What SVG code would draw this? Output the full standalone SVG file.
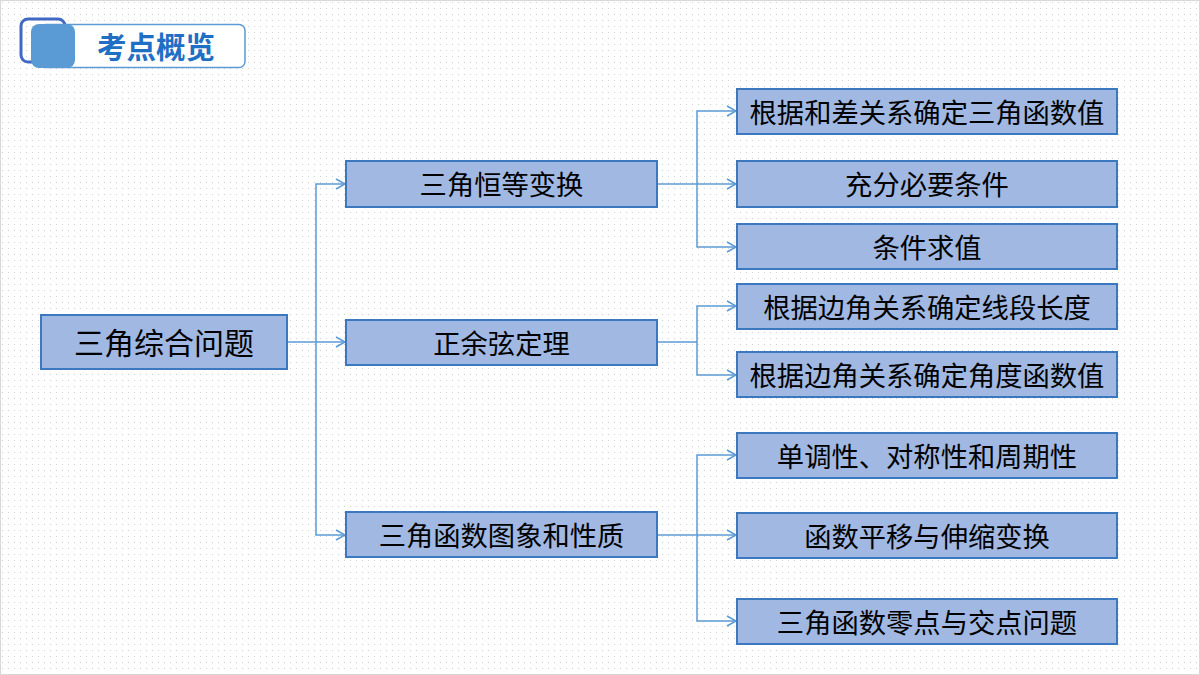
<svg xmlns="http://www.w3.org/2000/svg" width="1200" height="675" viewBox="0 0 1200 675">
<defs>
<pattern id="dots" width="6" height="6" patternUnits="userSpaceOnUse">
<rect x="2" y="2" width="1" height="1" fill="#d0d0d0"/>
</pattern>
<marker id="arr" markerWidth="12" markerHeight="12" refX="10" refY="6" orient="auto" markerUnits="userSpaceOnUse">
<path d="M1,1 L10,6 L1,11" fill="none" stroke="#5b9bd5" stroke-width="1.5"/>
</marker>
<style>
.node rect{fill:#a0b8e2;stroke:#3c78c0;stroke-width:2}
.node text{font-family:"Noto Sans CJK SC","Noto Sans CJK JP",sans-serif;font-size:27.3px;fill:#000;text-anchor:middle;dominant-baseline:central}
.conn path{fill:none;stroke:#5b9bd5;stroke-width:1.5}
.conn .a{marker-end:url(#arr)}
</style>
</defs>
<rect width="1200" height="675" fill="#ffffff"/>
<rect width="1200" height="675" fill="url(#dots)"/>
<rect x="0.5" y="0.5" width="1199" height="674" fill="none" stroke="#d8d8d8"/>

<g id="title">
<rect x="21" y="19" width="44" height="43" rx="7" fill="none" stroke="#4169c4" stroke-width="3"/>
<rect x="40" y="24.5" width="205" height="43" rx="6" fill="#ffffff" stroke="#5b9bd5" stroke-width="1.5"/>
<rect x="31" y="24" width="44" height="44" rx="8" fill="#5b9bd5"/>
<text x="156" y="45" font-family="'Noto Sans CJK SC','Noto Sans CJK JP',sans-serif" font-size="29.5" font-weight="bold" fill="#1f6fc5" text-anchor="middle" dominant-baseline="central">考点概览</text>
</g>

<g class="conn" id="connectors">
<path d="M287,342 H316"/>
<path class="a" d="M316,342 V184 H345"/>
<path class="a" d="M316,342 H345"/>
<path class="a" d="M316,342 V535 H345"/>
<path d="M657,184 H697"/>
<path class="a" d="M697,184 V111 H736"/>
<path class="a" d="M697,184 H736"/>
<path class="a" d="M697,184 V247 H736"/>
<path d="M657,342 H697"/>
<path class="a" d="M697,342 V306 H736"/>
<path class="a" d="M697,342 V375 H736"/>
<path d="M657,535 H697"/>
<path class="a" d="M697,535 V455 H736"/>
<path class="a" d="M697,535 H736"/>
<path class="a" d="M697,535 V621 H736"/>
</g>

<g class="node" id="root"><rect x="41" y="315" width="246" height="54"/><text x="164" y="341" style="font-size:30px">三角综合问题</text></g>
<g class="node" id="m1"><rect x="346" y="161" width="311" height="46"/><text x="501.5" y="183">三角恒等变换</text></g>
<g class="node" id="m2"><rect x="346" y="320" width="311" height="45"/><text x="501.5" y="341.5">正余弦定理</text></g>
<g class="node" id="m3"><rect x="346" y="512" width="311" height="45"/><text x="501.5" y="533.5">三角函数图象和性质</text></g>

<g class="node" id="r1"><rect x="737" y="89" width="380" height="45"/><text x="927" y="110.5">根据和差关系确定三角函数值</text></g>
<g class="node" id="r2"><rect x="737" y="161" width="380" height="46"/><text x="927" y="183">充分必要条件</text></g>
<g class="node" id="r3"><rect x="737" y="224" width="380" height="45"/><text x="927" y="245.5">条件求值</text></g>
<g class="node" id="r4"><rect x="737" y="284" width="380" height="45"/><text x="927" y="305.5">根据边角关系确定线段长度</text></g>
<g class="node" id="r5"><rect x="737" y="352" width="380" height="45"/><text x="927" y="373.5">根据边角关系确定角度函数值</text></g>
<g class="node" id="r6"><rect x="737" y="433" width="380" height="45"/><text x="927" y="454.5">单调性、对称性和周期性</text></g>
<g class="node" id="r7"><rect x="737" y="513" width="380" height="45"/><text x="927" y="534.5">函数平移与伸缩变换</text></g>
<g class="node" id="r8"><rect x="737" y="599" width="380" height="45"/><text x="927" y="620.5">三角函数零点与交点问题</text></g>
</svg>
